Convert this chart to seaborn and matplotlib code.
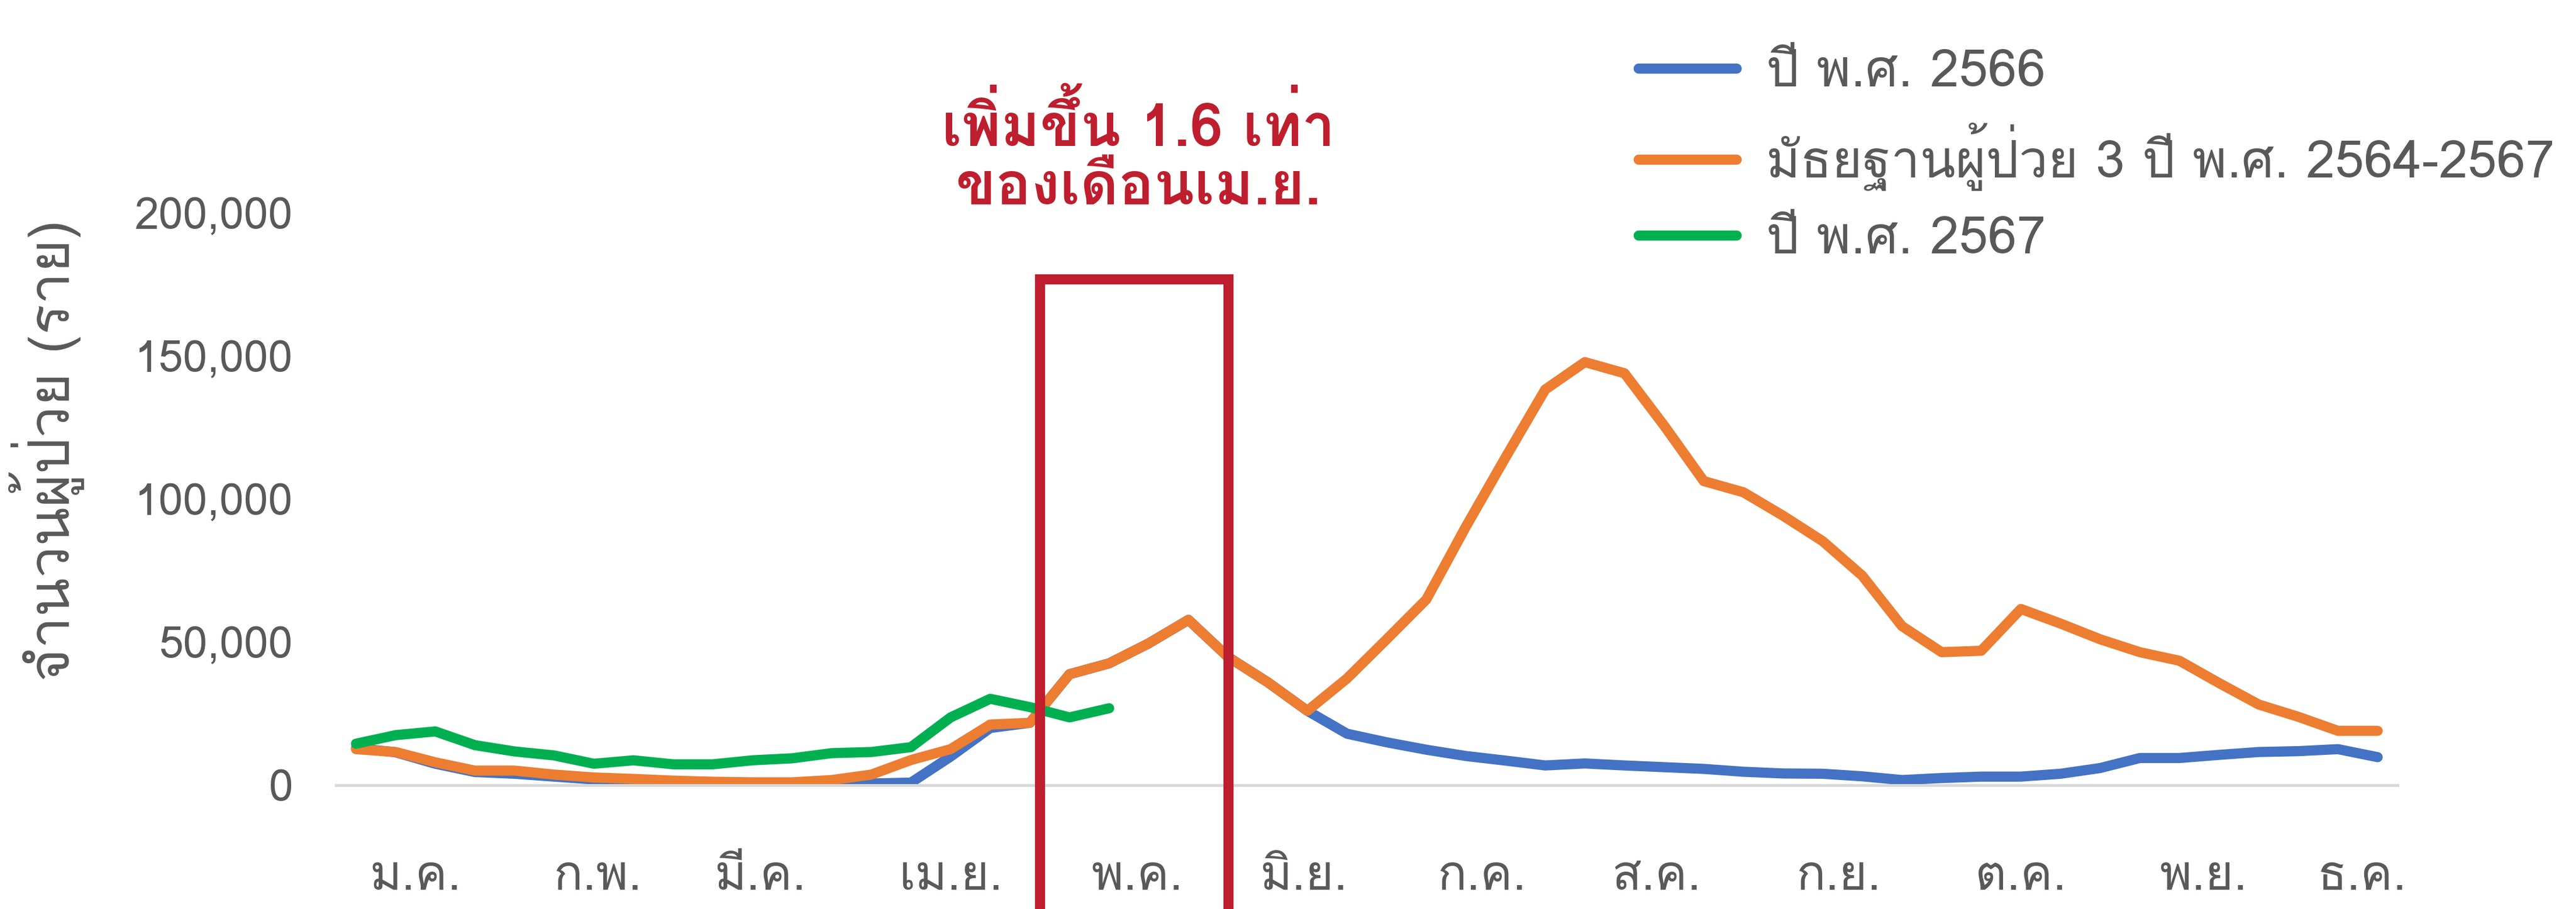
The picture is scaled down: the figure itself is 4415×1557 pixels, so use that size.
"""
Weekly patient counts chart (Thai labels) recreated with seaborn
"""
import numpy as np
import pandas as pd
import matplotlib
matplotlib.use('Agg')
import matplotlib.pyplot as plt
import seaborn as sns
from matplotlib import font_manager
from matplotlib.ft2font import FT2Font
from matplotlib.patches import Rectangle


# Data (thousands of cases per week)
weeks = list(range(52))

cases_2566 = [13.0, 11.5, 7.5, 4.6, 4.0, 3.0, 2.0, 1.5, 1.0, 0.6,
              0.4, 0.4, 0.4, 0.6, 0.9, 10.0, 20.0, 21.8, 38.8, 42.6,
              49.6, 57.8, 44.8, 36.0, 26.0, 18.0, 15.0, 12.4, 10.2, 8.6,
              6.9, 7.6, 6.9, 6.3, 5.7, 4.7, 4.1, 4.0, 3.1, 1.8,
              2.5, 3.0, 3.0, 4.0, 6.0, 9.5, 9.5, 10.6, 11.6, 11.9,
              12.6, 9.8]

median_2564_2567 = [12.6, 11.6, 8.0, 5.1, 5.1, 3.7, 2.7, 2.2, 1.6, 1.2,
                    1.0, 1.0, 1.8, 3.7, 8.8, 12.6, 21.2, 21.8, 38.8, 42.6,
                    49.6, 57.8, 44.8, 36.0, 26.0, 37.3, 51.0, 64.9, 90.4, 114.6,
                    138.3, 147.9, 144.0, 125.7, 106.3, 102.4, 94.2, 85.3, 73.2, 55.6,
                    46.5, 47.0, 61.6, 56.5, 51.0, 46.5, 43.5, 35.7, 28.2, 23.9,
                    19.0, 19.0]

cases_2567 = [14.5, 17.5, 18.8, 14.0, 11.8, 10.4, 7.5, 8.7, 7.3, 7.3,
              8.7, 9.4, 11.2, 11.6, 13.3, 23.7, 30.2, 27.3, 23.7, 26.9]

series_labels = ['ปี พ.ศ. 2566', 'มัธยฐานผู้ป่วย 3 ปี พ.ศ. 2564-2567', 'ปี พ.ศ. 2567']
series_colors = ['#4472C4', '#ED7D31', '#00B050']

month_labels = ['ม.ค.', 'ก.พ.', 'มี.ค.', 'เม.ย.', 'พ.ค.', 'มิ.ย.',
                'ก.ค.', 'ส.ค.', 'ก.ย.', 'ต.ค.', 'พ.ย.', 'ธ.ค.']
month_ticks = [1.5, 6.1, 10.2, 15.0, 19.7, 23.9, 28.4, 32.8, 37.4, 42.0, 46.6, 50.6]

y_ticks = [0, 50000, 100000, 150000, 200000]
y_label = 'จำนวนผู้ป่วย (ราย)'
note_text = 'เพิ่มขึ้น 1.6 เท่า\nของเดือนเม.ย.'

# highlighted weeks (box around May)
box_start, box_end = 17.25, 22.0
box_top = 177000

TEXT_GREY = '#595959'
RED = '#BE1E2D'


def find_thai_font():
    """Return the name of an installed font that has Thai glyphs, if any"""
    for f in font_manager.fontManager.ttflist:
        try:
            if 0x0E01 in FT2Font(f.fname).get_charmap():
                return f.name
        except Exception:
            continue
    return None


def main():
    sns.set_theme(style='white')
    thai = find_thai_font()
    families = [thai, 'DejaVu Sans'] if thai else ['DejaVu Sans']
    plt.rcParams['font.family'] = families

    frames = []
    for label, values in zip(series_labels, [cases_2566, median_2564_2567, cases_2567]):
        frames.append(pd.DataFrame({
            'week': weeks[:len(values)],
            'cases': np.array(values) * 1000,
            'series': label,
        }))
    df = pd.concat(frames, ignore_index=True)

    fig = plt.figure(figsize=(44.15, 15.57), dpi=100)
    ax = fig.add_axes([0.1305, 0.1362, 0.8002, 0.6294])

    sns.lineplot(
        data=df, x='week', y='cases', hue='series',
        hue_order=series_labels, palette=series_colors,
        linewidth=12.5, sort=False, legend=False, ax=ax
    )
    for line in ax.lines:
        line.set_solid_joinstyle('round')
        line.set_solid_capstyle('round')

    ax.set_xlim(-0.5, 51.5)
    ax.set_ylim(0, 200000)
    ax.set_yticks(y_ticks)
    ax.set_yticklabels([f'{v:,}' for v in y_ticks])
    ax.set_xticks(month_ticks)
    ax.set_xticklabels(month_labels)
    ax.tick_params(axis='y', length=0, pad=53, labelsize=54, labelcolor=TEXT_GREY)
    ax.tick_params(axis='x', length=0, pad=86, labelsize=60, labelcolor=TEXT_GREY)
    ax.set_xlabel('')
    ax.set_ylabel(y_label, fontsize=70, color=TEXT_GREY, va='center')
    ax.yaxis.set_label_coords(-0.1404, 0.585)
    ax.grid(False)
    for side in ['top', 'right', 'left']:
        ax.spines[side].set_visible(False)
    ax.spines['bottom'].set_color('#D9D9D9')
    ax.spines['bottom'].set_linewidth(3.6)

    # red box around the highlighted weeks
    ax.add_patch(Rectangle(
        (box_start, -60000), box_end - box_start, box_top + 60000,
        fill=False, edgecolor=RED, linewidth=12.5, clip_on=False, zorder=5
    ))
    fig.text(0.442, 0.830, note_text, color=RED, fontsize=73, fontweight='bold',
             ha='center', va='center', multialignment='center', linespacing=1.12)

    handles = ax.lines[:3]
    leg = fig.legend(
        handles, series_labels, loc='upper left', bbox_to_anchor=(0.636, 0.946),
        frameon=False, fontsize=64, handlelength=1.89, handletextpad=0.58,
        labelspacing=0.49, borderpad=0, borderaxespad=0
    )
    for text in leg.get_texts():
        text.set_color(TEXT_GREY)
    for h in leg.get_lines():
        h.set_linewidth(12.5)
        h.set_solid_capstyle('round')

    fig.savefig('out.png', dpi=100, facecolor='white')
    plt.close(fig)


if __name__ == '__main__':
    main()
